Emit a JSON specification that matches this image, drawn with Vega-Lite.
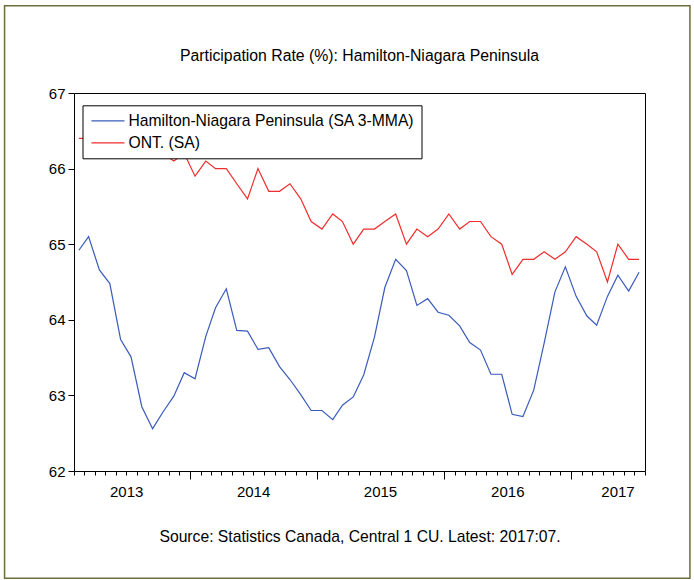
{
  "$schema": "https://vega.github.io/schema/vega-lite/v6.json",
  "width": 571,
  "height": 378,
  "padding": {"left": 3, "top": 5, "right": 3, "bottom": 2},
  "background": "white",
  "config": {
    "font": "Liberation Sans",
    "view": {"stroke": "black", "strokeWidth": 1}
  },
  "title": {
    "text": "Participation Rate (%): Hamilton-Niagara Peninsula",
    "fontSize": 15.8,
    "fontWeight": "normal",
    "font": "Liberation Sans",
    "color": "black",
    "frame": "group",
    "anchor": "middle",
    "offset": -60
  },
  "data": {
    "values": [
      {"date": "2013-02-15", "series": "Hamilton-Niagara Peninsula (SA 3-MMA)", "value": 64.92},
      {"date": "2013-03-15", "series": "Hamilton-Niagara Peninsula (SA 3-MMA)", "value": 65.10},
      {"date": "2013-04-15", "series": "Hamilton-Niagara Peninsula (SA 3-MMA)", "value": 64.66},
      {"date": "2013-05-15", "series": "Hamilton-Niagara Peninsula (SA 3-MMA)", "value": 64.48},
      {"date": "2013-06-15", "series": "Hamilton-Niagara Peninsula (SA 3-MMA)", "value": 63.74},
      {"date": "2013-07-15", "series": "Hamilton-Niagara Peninsula (SA 3-MMA)", "value": 63.51},
      {"date": "2013-08-15", "series": "Hamilton-Niagara Peninsula (SA 3-MMA)", "value": 62.85},
      {"date": "2013-09-15", "series": "Hamilton-Niagara Peninsula (SA 3-MMA)", "value": 62.56},
      {"date": "2013-10-15", "series": "Hamilton-Niagara Peninsula (SA 3-MMA)", "value": 62.78},
      {"date": "2013-11-15", "series": "Hamilton-Niagara Peninsula (SA 3-MMA)", "value": 62.99},
      {"date": "2013-12-15", "series": "Hamilton-Niagara Peninsula (SA 3-MMA)", "value": 63.30},
      {"date": "2014-01-15", "series": "Hamilton-Niagara Peninsula (SA 3-MMA)", "value": 63.22},
      {"date": "2014-02-15", "series": "Hamilton-Niagara Peninsula (SA 3-MMA)", "value": 63.78},
      {"date": "2014-03-15", "series": "Hamilton-Niagara Peninsula (SA 3-MMA)", "value": 64.16},
      {"date": "2014-04-15", "series": "Hamilton-Niagara Peninsula (SA 3-MMA)", "value": 64.41},
      {"date": "2014-05-15", "series": "Hamilton-Niagara Peninsula (SA 3-MMA)", "value": 63.86},
      {"date": "2014-06-15", "series": "Hamilton-Niagara Peninsula (SA 3-MMA)", "value": 63.85},
      {"date": "2014-07-15", "series": "Hamilton-Niagara Peninsula (SA 3-MMA)", "value": 63.61},
      {"date": "2014-08-15", "series": "Hamilton-Niagara Peninsula (SA 3-MMA)", "value": 63.63},
      {"date": "2014-09-15", "series": "Hamilton-Niagara Peninsula (SA 3-MMA)", "value": 63.38},
      {"date": "2014-10-15", "series": "Hamilton-Niagara Peninsula (SA 3-MMA)", "value": 63.21},
      {"date": "2014-11-15", "series": "Hamilton-Niagara Peninsula (SA 3-MMA)", "value": 63.01},
      {"date": "2014-12-15", "series": "Hamilton-Niagara Peninsula (SA 3-MMA)", "value": 62.80},
      {"date": "2015-01-15", "series": "Hamilton-Niagara Peninsula (SA 3-MMA)", "value": 62.80},
      {"date": "2015-02-15", "series": "Hamilton-Niagara Peninsula (SA 3-MMA)", "value": 62.68},
      {"date": "2015-03-15", "series": "Hamilton-Niagara Peninsula (SA 3-MMA)", "value": 62.87},
      {"date": "2015-04-15", "series": "Hamilton-Niagara Peninsula (SA 3-MMA)", "value": 62.98},
      {"date": "2015-05-15", "series": "Hamilton-Niagara Peninsula (SA 3-MMA)", "value": 63.27},
      {"date": "2015-06-15", "series": "Hamilton-Niagara Peninsula (SA 3-MMA)", "value": 63.77},
      {"date": "2015-07-15", "series": "Hamilton-Niagara Peninsula (SA 3-MMA)", "value": 64.43},
      {"date": "2015-08-15", "series": "Hamilton-Niagara Peninsula (SA 3-MMA)", "value": 64.80},
      {"date": "2015-09-15", "series": "Hamilton-Niagara Peninsula (SA 3-MMA)", "value": 64.65},
      {"date": "2015-10-15", "series": "Hamilton-Niagara Peninsula (SA 3-MMA)", "value": 64.19},
      {"date": "2015-11-15", "series": "Hamilton-Niagara Peninsula (SA 3-MMA)", "value": 64.28},
      {"date": "2015-12-15", "series": "Hamilton-Niagara Peninsula (SA 3-MMA)", "value": 64.10},
      {"date": "2016-01-15", "series": "Hamilton-Niagara Peninsula (SA 3-MMA)", "value": 64.06},
      {"date": "2016-02-15", "series": "Hamilton-Niagara Peninsula (SA 3-MMA)", "value": 63.92},
      {"date": "2016-03-15", "series": "Hamilton-Niagara Peninsula (SA 3-MMA)", "value": 63.70},
      {"date": "2016-04-15", "series": "Hamilton-Niagara Peninsula (SA 3-MMA)", "value": 63.60},
      {"date": "2016-05-15", "series": "Hamilton-Niagara Peninsula (SA 3-MMA)", "value": 63.28},
      {"date": "2016-06-15", "series": "Hamilton-Niagara Peninsula (SA 3-MMA)", "value": 63.28},
      {"date": "2016-07-15", "series": "Hamilton-Niagara Peninsula (SA 3-MMA)", "value": 62.75},
      {"date": "2016-08-15", "series": "Hamilton-Niagara Peninsula (SA 3-MMA)", "value": 62.72},
      {"date": "2016-09-15", "series": "Hamilton-Niagara Peninsula (SA 3-MMA)", "value": 63.07},
      {"date": "2016-10-15", "series": "Hamilton-Niagara Peninsula (SA 3-MMA)", "value": 63.69},
      {"date": "2016-11-15", "series": "Hamilton-Niagara Peninsula (SA 3-MMA)", "value": 64.37},
      {"date": "2016-12-15", "series": "Hamilton-Niagara Peninsula (SA 3-MMA)", "value": 64.70},
      {"date": "2017-01-15", "series": "Hamilton-Niagara Peninsula (SA 3-MMA)", "value": 64.31},
      {"date": "2017-02-15", "series": "Hamilton-Niagara Peninsula (SA 3-MMA)", "value": 64.05},
      {"date": "2017-03-15", "series": "Hamilton-Niagara Peninsula (SA 3-MMA)", "value": 63.93},
      {"date": "2017-04-15", "series": "Hamilton-Niagara Peninsula (SA 3-MMA)", "value": 64.31},
      {"date": "2017-05-15", "series": "Hamilton-Niagara Peninsula (SA 3-MMA)", "value": 64.59},
      {"date": "2017-06-15", "series": "Hamilton-Niagara Peninsula (SA 3-MMA)", "value": 64.38},
      {"date": "2017-07-15", "series": "Hamilton-Niagara Peninsula (SA 3-MMA)", "value": 64.63},
      {"date": "2013-02-15", "series": "ONT. (SA)", "value": 66.4},
      {"date": "2013-03-15", "series": "ONT. (SA)", "value": 66.4},
      {"date": "2013-04-15", "series": "ONT. (SA)", "value": 66.3},
      {"date": "2013-05-15", "series": "ONT. (SA)", "value": 66.4},
      {"date": "2013-06-15", "series": "ONT. (SA)", "value": 66.3},
      {"date": "2013-07-15", "series": "ONT. (SA)", "value": 66.3},
      {"date": "2013-08-15", "series": "ONT. (SA)", "value": 66.2},
      {"date": "2013-09-15", "series": "ONT. (SA)", "value": 66.3},
      {"date": "2013-10-15", "series": "ONT. (SA)", "value": 66.2},
      {"date": "2013-11-15", "series": "ONT. (SA)", "value": 66.1},
      {"date": "2013-12-15", "series": "ONT. (SA)", "value": 66.2},
      {"date": "2014-01-15", "series": "ONT. (SA)", "value": 65.9},
      {"date": "2014-02-15", "series": "ONT. (SA)", "value": 66.1},
      {"date": "2014-03-15", "series": "ONT. (SA)", "value": 66.0},
      {"date": "2014-04-15", "series": "ONT. (SA)", "value": 66.0},
      {"date": "2014-05-15", "series": "ONT. (SA)", "value": 65.8},
      {"date": "2014-06-15", "series": "ONT. (SA)", "value": 65.6},
      {"date": "2014-07-15", "series": "ONT. (SA)", "value": 66.0},
      {"date": "2014-08-15", "series": "ONT. (SA)", "value": 65.7},
      {"date": "2014-09-15", "series": "ONT. (SA)", "value": 65.7},
      {"date": "2014-10-15", "series": "ONT. (SA)", "value": 65.8},
      {"date": "2014-11-15", "series": "ONT. (SA)", "value": 65.6},
      {"date": "2014-12-15", "series": "ONT. (SA)", "value": 65.3},
      {"date": "2015-01-15", "series": "ONT. (SA)", "value": 65.2},
      {"date": "2015-02-15", "series": "ONT. (SA)", "value": 65.4},
      {"date": "2015-03-15", "series": "ONT. (SA)", "value": 65.3},
      {"date": "2015-04-15", "series": "ONT. (SA)", "value": 65.0},
      {"date": "2015-05-15", "series": "ONT. (SA)", "value": 65.2},
      {"date": "2015-06-15", "series": "ONT. (SA)", "value": 65.2},
      {"date": "2015-07-15", "series": "ONT. (SA)", "value": 65.3},
      {"date": "2015-08-15", "series": "ONT. (SA)", "value": 65.4},
      {"date": "2015-09-15", "series": "ONT. (SA)", "value": 65.0},
      {"date": "2015-10-15", "series": "ONT. (SA)", "value": 65.2},
      {"date": "2015-11-15", "series": "ONT. (SA)", "value": 65.1},
      {"date": "2015-12-15", "series": "ONT. (SA)", "value": 65.2},
      {"date": "2016-01-15", "series": "ONT. (SA)", "value": 65.4},
      {"date": "2016-02-15", "series": "ONT. (SA)", "value": 65.2},
      {"date": "2016-03-15", "series": "ONT. (SA)", "value": 65.3},
      {"date": "2016-04-15", "series": "ONT. (SA)", "value": 65.3},
      {"date": "2016-05-15", "series": "ONT. (SA)", "value": 65.1},
      {"date": "2016-06-15", "series": "ONT. (SA)", "value": 65.0},
      {"date": "2016-07-15", "series": "ONT. (SA)", "value": 64.6},
      {"date": "2016-08-15", "series": "ONT. (SA)", "value": 64.8},
      {"date": "2016-09-15", "series": "ONT. (SA)", "value": 64.8},
      {"date": "2016-10-15", "series": "ONT. (SA)", "value": 64.9},
      {"date": "2016-11-15", "series": "ONT. (SA)", "value": 64.8},
      {"date": "2016-12-15", "series": "ONT. (SA)", "value": 64.9},
      {"date": "2017-01-15", "series": "ONT. (SA)", "value": 65.1},
      {"date": "2017-02-15", "series": "ONT. (SA)", "value": 65.0},
      {"date": "2017-03-15", "series": "ONT. (SA)", "value": 64.9},
      {"date": "2017-04-15", "series": "ONT. (SA)", "value": 64.5},
      {"date": "2017-05-15", "series": "ONT. (SA)", "value": 65.0},
      {"date": "2017-06-15", "series": "ONT. (SA)", "value": 64.8},
      {"date": "2017-07-15", "series": "ONT. (SA)", "value": 64.8}
    ]
  },
  "layer": [
    {
      "mark": {"type": "line", "strokeWidth": 1.2},
      "encoding": {
        "x": {
          "field": "date",
          "type": "temporal",
          "title": "Source: Statistics Canada, Central 1 CU. Latest: 2017:07.",
          "scale": {
            "type": "utc",
            "domain": [
              {"year": 2013, "month": 2, "date": 1, "utc": true},
              {"year": 2017, "month": 8, "date": 1, "utc": true}
            ]
          },
          "axis": {
            "tickCount": {"interval": "month", "step": 1},
            "labelExpr": "utcmonth(datum.value) == 6 ? utcFormat(datum.value, '%Y') : ''",
            "tickSize": {"condition": {"test": "utcmonth(datum.value) == 0", "value": 8}, "value": 4},
            "tickColor": "black",
            "tickWidth": 1,
            "domain": false,
            "grid": false,
            "labelFontSize": 15,
            "labelColor": "black",
            "labelFont": "Liberation Sans",
            "labelFlush": 20,
            "labelOverlap": false,
            "labelBound": false,
            "labelPadding": 9,
            "titleFontSize": 15.7,
            "titleFontWeight": "normal",
            "titleColor": "black",
            "titleFont": "Liberation Sans",
            "titlePadding": 26
          }
        },
        "y": {
          "field": "value",
          "type": "quantitative",
          "title": null,
          "scale": {"domain": [62, 67], "zero": false, "nice": false},
          "axis": {
            "values": [62, 63, 64, 65, 66, 67],
            "tickSize": 6,
            "tickColor": "black",
            "domain": false,
            "grid": false,
            "labelFontSize": 15,
            "labelColor": "black",
            "labelFont": "Liberation Sans",
            "labelPadding": 3
          }
        },
        "color": {
          "field": "series",
          "type": "nominal",
          "scale": {
            "domain": ["Hamilton-Niagara Peninsula (SA 3-MMA)", "ONT. (SA)"],
            "range": ["#3a5bbb", "#f02d2d"]
          },
          "legend": {
            "title": null,
            "orient": "none",
            "legendX": 8.5,
            "legendY": 12.3,
            "direction": "vertical",
            "strokeColor": "black",
            "fillColor": "white",
            "padding": 7,
            "symbolType": "M-0.87,0H3.53",
            "symbolSize": 225,
            "symbolStrokeWidth": 1.3,
            "labelFontSize": 15.7,
            "labelColor": "black",
            "labelFont": "Liberation Sans",
            "labelLimit": 0,
            "labelOffset": 22,
            "rowPadding": 5,
            "cornerRadius": 0
          }
        }
      }
    },
    {
      "data": {"values": [{}]},
      "mark": {"type": "rect", "filled": false, "stroke": "#6e6e3c", "strokeWidth": 1.5},
      "encoding": {
        "x": {"datum": -0.1216, "type": "quantitative", "scale": {"domain": [0, 1], "nice": false, "zero": false}, "axis": null},
        "x2": {"datum": 1.0787},
        "y": {"datum": -0.2839, "type": "quantitative", "scale": {"domain": [0, 1], "nice": false, "zero": false}, "axis": null},
        "y2": {"datum": 1.2307}
      }
    }
  ],
  "resolve": {"scale": {"x": "independent", "y": "independent"}}
}
